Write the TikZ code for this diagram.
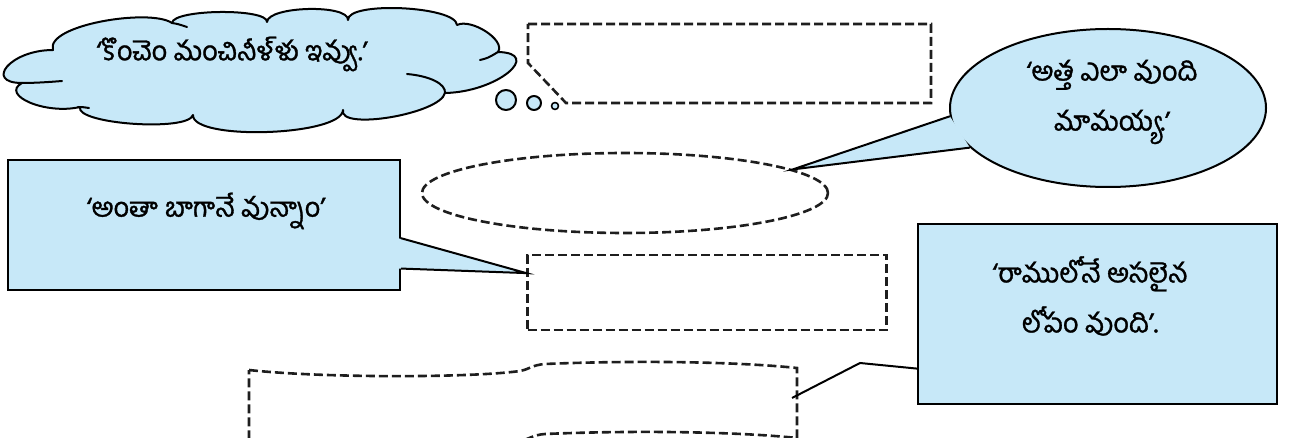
\documentclass[tikz,border=0pt]{standalone}
\usepackage{fontspec}
\newfontfamily\tel[Script=Telugu,FakeBold=1.2]{Hind Guntur}
\usetikzlibrary{shapes.geometric,calc}
\definecolor{sky}{RGB}{199,232,248}
\definecolor{dk}{RGB}{30,30,30}
\begin{document}
\begin{tikzpicture}[x=1pt,y=-1pt,
  bluebox/.style={fill=sky,draw=black,line width=2pt,line join=round},
  dline/.style={draw=dk,line width=2.6pt,dash pattern=on 9pt off 4pt},
  stroke/.style={draw=black,line width=2pt,line cap=round},
  txt/.style={font=\tel\fontsize{27}{50}\selectfont,align=center,inner sep=0pt}]
\useasboundingbox (0,0) rectangle (1296,438);

% thought cloud
\path[bluebox] (53,50)
  .. controls (45,25) and (150,8) .. (172,23)
  .. controls (173,9) and (268,8) .. (267,22)
  .. controls (268,6) and (349,4) .. (348,20)
  .. controls (347,1) and (456,6) .. (457,25)
  .. controls (471,18) and (506,40) .. (498,52)
  .. controls (543,53) and (498,92) .. (445,93)
  .. controls (440,114) and (338,131) .. (343,110)
  .. controls (342,136) and (192,141) .. (193,115)
  .. controls (188,132) and (75,124) .. (80,107)
  .. controls (45,115) and (0,95) .. (22,83)
  .. controls (-16,83) and (10,50) .. (53,50) -- cycle;
\draw[stroke] (22,83) .. controls (35,83) and (50,82) .. (62,81);
\draw[stroke] (78,107) .. controls (82,107) .. (89,108);
\draw[stroke] (172,23) .. controls (178,24) .. (187,27);
\draw[stroke] (407,74) .. controls (430,76) and (446,84) .. (445,93);
\draw[stroke] (480,60) .. controls (488,58) .. (498,52);
\node[txt] (ctext) at (232,54) {‘కొంచెం మంచినీళ్ళు ఇవ్వు.’};

\node[circle,bluebox,minimum size=20pt,inner sep=0pt] (b1) at (506,100) {};
\node[circle,bluebox,minimum size=14pt,inner sep=0pt] (b2) at (534,103) {};
\node[circle,bluebox,line width=1.6pt,minimum size=7pt,inner sep=0pt] (b3) at (555,106) {};

% dashed thought box
\draw[dline] (528,24) -- (931,24) -- (931,103) -- (566,103) -- (528,63) -- cycle;

% dashed ellipse and rectangle
\node[dline,ellipse,minimum width=406pt,minimum height=80pt,inner sep=0pt] (dell) at (625,193) {};
\node[dline,rectangle,minimum width=359pt,minimum height=75pt,inner sep=0pt] (drect) at (707,292.5) {};

% speech ellipse
\node[ellipse,bluebox,minimum width=316pt,minimum height=158pt,inner sep=0pt] (spk) at (1108,108) {};
\coordinate (stip) at (dell.8);
\fill[sky] (spk.183) -- (stip) -- (spk.196.6) -- cycle;
\draw[line width=2pt,line join=miter] (spk.183) -- (stip) -- (spk.196.6);
\node[txt] (spkt) at (1112,102) {‘అత్త ఎలా వుంది\\మామయ్య.’};

% left callout
\node[rectangle,bluebox,line join=miter,minimum width=392pt,minimum height=130pt,inner sep=0pt] (lrect) at (204,225) {};
\coordinate (lt1) at ($(lrect.north east)!0.6!(lrect.south east)$);
\coordinate (lt2) at ($(lrect.north east)!0.83!(lrect.south east)$);
\coordinate (ltip) at ($(drect.north west)!0.25!(drect.south west)$);
\fill[sky] ($(lt1)+(-3,0)$) -- (ltip) -- ($(lt2)+(-3,0)$) -- cycle;
\draw[line width=2pt,line join=miter] (lt1) -- (ltip) -- (lt2);
\node[txt] (ltext) at (206,211) {‘అంతా బాగానే వున్నాం’};

% right callout
\node[rectangle,bluebox,line join=miter,minimum width=359pt,minimum height=180pt,inner sep=0pt] (rrect) at (1097.5,314) {};
\node[txt] (rtext) at (1090,296) {‘రాములోనే అసలైన\\లోపం వుంది’.};

% banner
\begin{scope}
\clip (0,0) rectangle (1296,438);
\draw[dline] (249,370) .. controls (320,378) and (470,378) .. (520,371)
  .. controls (530,369) and (532,365) .. (545,364)
  .. controls (640,360) and (740,362) .. (797,368) -- (797,438)
  .. controls (740,432) and (640,430) .. (545,434)
  .. controls (532,435) and (530,439) .. (520,441)
  .. controls (470,448) and (320,448) .. (249,440) -- cycle;
\end{scope}
\coordinate (rt1) at ($(rrect.north west)!0.8!(rrect.south west)$);
\coordinate (rbend) at (860,363);
\coordinate (bantip) at (792,398);
\draw[line width=2pt] (rt1) -- (rbend) -- (bantip);
\end{tikzpicture}
\end{document}
